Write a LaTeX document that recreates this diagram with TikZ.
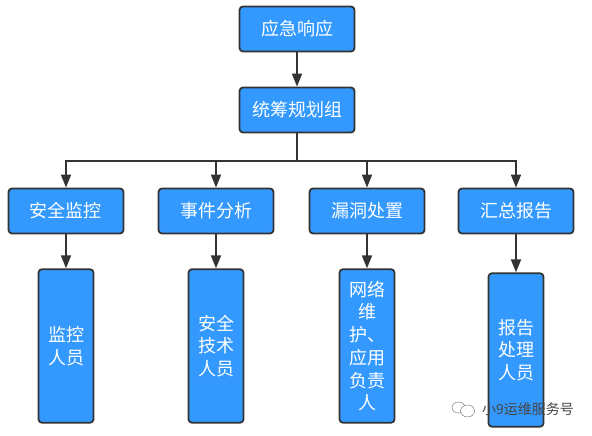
\documentclass[tikz,border=0pt]{standalone}
\usepackage{fontspec}
\setmainfont{Noto Sans CJK SC}
\usetikzlibrary{arrows.meta}
\definecolor{boxblue}{RGB}{51,153,255}
\definecolor{linegray}{RGB}{51,51,51}
\definecolor{markgray}{RGB}{70,70,70}
\tikzset{
  wire/.style={draw=linegray, line width=1.8pt},
  flow/.style={wire, -{Triangle[length=13pt,width=10pt]}},
  wide/.style={draw=linegray, line width=1.8pt, fill=boxblue, text=white,
               minimum width=115pt, minimum height=45pt, inner sep=0pt,
               rounded corners=3.5pt, align=center, font=\fontsize{18}{22.7}\selectfont},
  tall/.style={wide, minimum width=55pt, minimum height=153.5pt},
  marktext/.style={text=markgray, font=\fontsize{14}{16}\selectfont, inner sep=0pt},
  markline/.style={draw=markgray!70, line width=0.5pt, fill=white},
}
\begin{document}
\begin{tikzpicture}[x=1pt,y=1pt]
  \path[use as bounding box] (0,0) rectangle (592,436);

  % top of the chart
  \node[wide] (Resp) at (297,407) {应急响应};
  \node[wide] (Plan) at (297,326) {统筹规划组};
  \draw[flow] (Resp.south) -- (Plan.north);

  % four working groups
  \node[wide] (Mon) at (66,225) {安全监控};
  \node[wide] (Ana) at (216,225) {事件分析};
  \node[wide] (Vul) at (367,225) {漏洞处置};
  \node[wide] (Rep) at (516,225) {汇总报告};

  \coordinate (Bus) at (297,275);
  \draw[wire] (Plan.south) -- (Bus);
  \draw[flow] (Bus) -| (Mon.north);
  \draw[flow] (Bus) -| (Ana.north);
  \draw[flow] (Bus) -| (Vul.north);
  \draw[flow] (Bus) -| (Rep.north);

  % staff under each group
  \node[tall] (MonS) at (66,90) {监控\\人员};
  \node[tall] (AnaS) at (216,90) {安全\\技术\\人员};
  \node[tall] (VulS) at (367,90) {网络\\维\\护、\\应用\\负责\\人};
  \node[tall] (RepS) at (516,86) {报告\\处理\\人员};
  \draw[flow] (Mon.south) -- (MonS.north);
  \draw[flow] (Ana.south) -- (AnaS.north);
  \draw[flow] (Vul.south) -- (VulS.north);
  \draw[flow] (Rep.south) -- (RepS.north);

  % account mark in the corner
  \draw[markline] (458.5,28.5) ellipse (6.5pt and 5.5pt);
  \draw[markline] (467.5,25) ellipse (7pt and 6pt);
  \node[marktext, anchor=west] (Mark) at (482,27) {小9运维服务号};
\end{tikzpicture}
\end{document}
